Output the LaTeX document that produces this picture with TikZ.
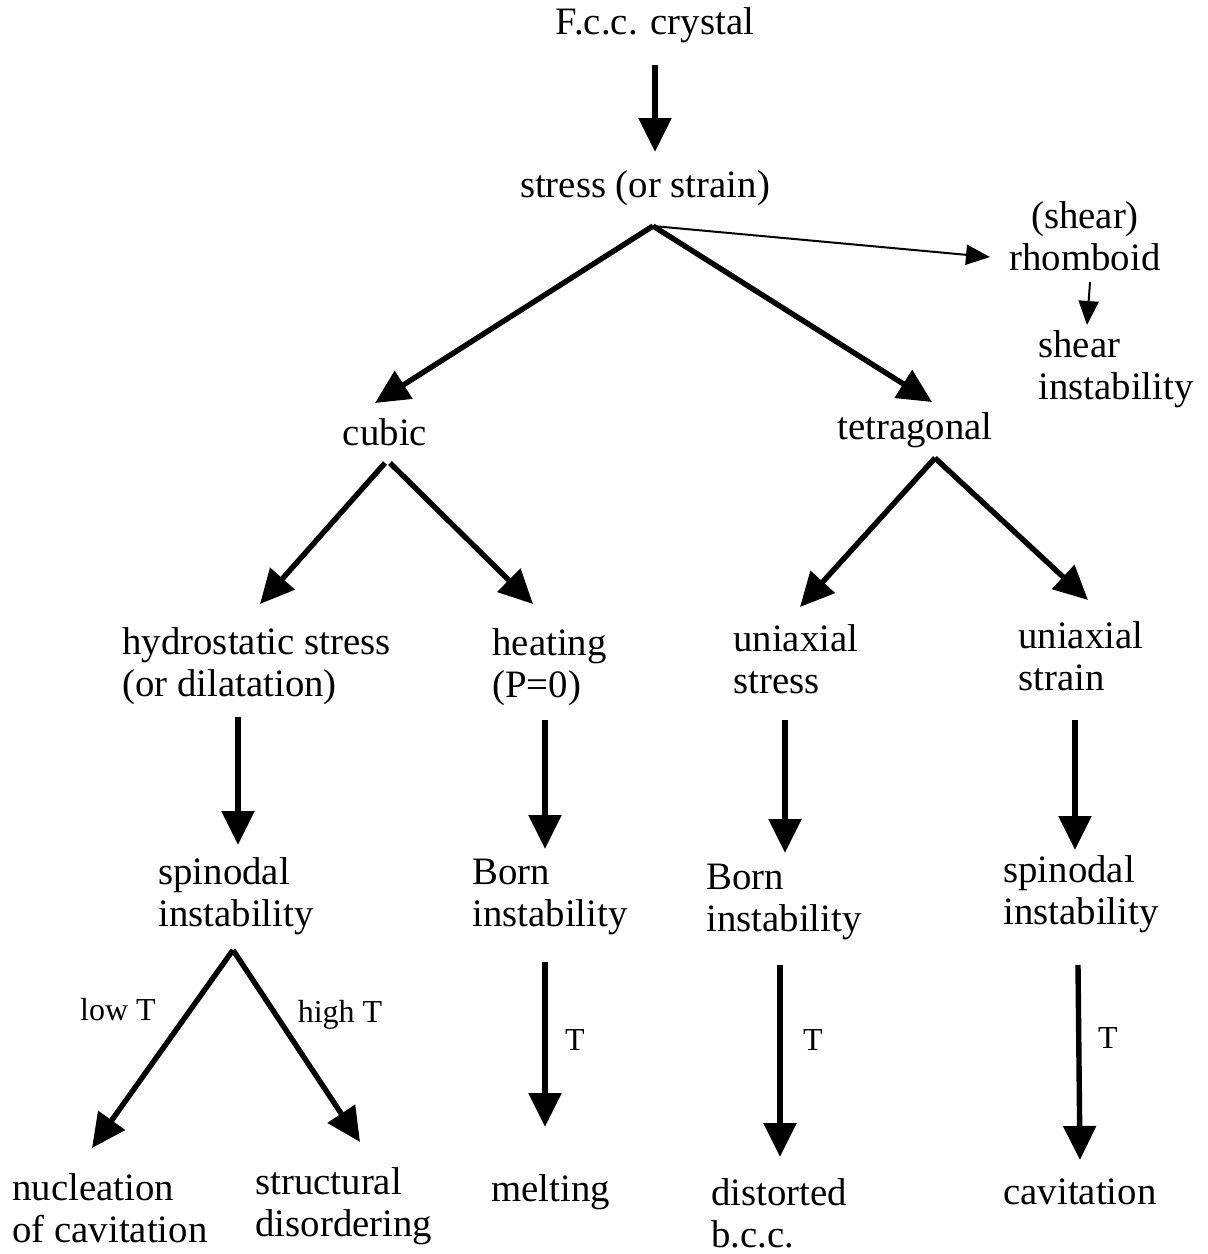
\documentclass[tikz,border=0pt]{standalone}
\usepackage{fontspec}
\setmainfont{Liberation Serif}
\usetikzlibrary{arrows.meta,calc}

\tikzset{
    lbl/.style={inner sep=0pt, font=\fontsize{19.4}{21}\selectfont},
    lbll/.style={lbl, align=left, anchor=west},
    tlbl/.style={inner sep=0pt, font=\fontsize{16}{18}\selectfont},
    arr/.style={line width=2.7pt, -{Triangle[width=16pt,length=17pt]}},
    thinarr/.style={line width=1pt, -{Triangle[width=10pt,length=12pt]}},
}

\begin{document}
\begin{tikzpicture}[x=0.5pt, y=-0.5pt]
        \useasboundingbox (0,0) rectangle (1207,1254);

        % top of the tree
        \node[lbl] (fcc) at (655,25) {F.c.c. crystal};
        \node[lbl] (stress) at (645,188) {stress (or strain)};
        \node[lbl, align=center] (rhomb) at (1085,236) {(shear)\\rhomboid};
        \node[lbll] (shear) at (1038,369) {shear\\instability};
        \node[lbl] (cubic) at (385,432) {cubic};
        \node[lbl] (tetra) at (915,430) {tetragonal};

        % loading modes
        \node[lbll] (hydro) at (122,666) {hydrostatic stress\\(or dilatation)};
        \node[lbll] (heat) at (492,667) {heating\\(P=0)};
        \node[lbll] (unistress) at (733,659) {uniaxial\\stress};
        \node[lbll] (unistrain) at (1018,656) {uniaxial\\strain};

        % instabilities
        \node[lbll] (spinA) at (158,896) {spinodal\\instability};
        \node[lbll] (bornA) at (472,897) {Born\\instability};
        \node[lbll] (bornB) at (706,902) {Born\\instability};
        \node[lbll] (spinB) at (1003,894) {spinodal\\instability};

        % outcomes
        \node[lbll] (nucl) at (12,1208) {nucleation\\of cavitation};
        \node[lbll] (struct) at (255,1206) {structural\\disordering};
        \node[lbll] (melt) at (491,1192) {melting};
        \node[lbll] (dist) at (711,1213) {distorted\\b.c.c.};
        \node[lbll] (cav) at (1003,1192) {cavitation};

        \node[tlbl] (lowT) at (118,1010) {low T};
        \node[tlbl] (highT) at (340,1015) {high T};
        \node[tlbl] (tA) at (575,1040) {T};
        \node[tlbl] (tB) at (813,1040) {T};
        \node[tlbl] (tC) at (1108,1038) {T};

        \draw[arr] ($(fcc.center)+(0,40)$) -- ($(stress.center)+(10,-36)$);
        \draw[arr] ($(stress.center)+(8,38)$) -- ($(cubic.center)+(-10,-29)$);
        \draw[arr] ($(stress.center)+(8,38)$) -- ($(tetra.center)+(17,-28)$);
        \draw[thinarr] ($(stress.center)+(8,38)$) -- ($(rhomb.center)+(-95,21)$);
        \draw[thinarr] ($(rhomb.center)+(5,46)$) -- ($(shear.west)+(49,-44)$);

        \draw[arr] ($(cubic.center)+(0,31)$) -- ($(hydro.west)+(138,-62)$);
        \draw[arr] ($(cubic.center)+(5,31)$) -- ($(heat.west)+(41,-63)$);
        \draw[arr] ($(tetra.center)+(20,28)$) -- ($(unistress.west)+(67,-52)$);
        \draw[arr] ($(tetra.center)+(20,28)$) -- ($(unistrain.west)+(70,-56)$);

        \draw[arr] ($(hydro.west)+(116,51)$) -- ($(spinA.west)+(80,-51)$);
        \draw[arr] ($(heat.west)+(53,53)$) -- ($(bornA.west)+(73,-48)$);
        \draw[arr] ($(unistress.west)+(52,61)$) -- ($(bornB.west)+(79,-49)$);
        \draw[arr] ($(unistrain.west)+(57,64)$) -- ($(spinB.west)+(72,-44)$);

        \draw[arr] ($(spinA.west)+(75,54)$) -- ($(nucl.west)+(80,-60)$);
        \draw[arr] ($(spinA.west)+(75,54)$) -- ($(struct.west)+(105,-64)$);
        \draw[arr] ($(bornA.west)+(73,65)$) -- ($(melt.west)+(54,-65)$);
        \draw[arr] ($(bornB.west)+(74,63)$) -- ($(dist.west)+(69,-56)$);
        \draw[arr] ($(spinB.west)+(75,71)$) -- ($(cav.west)+(77,-32)$);
\end{tikzpicture}
\end{document}
